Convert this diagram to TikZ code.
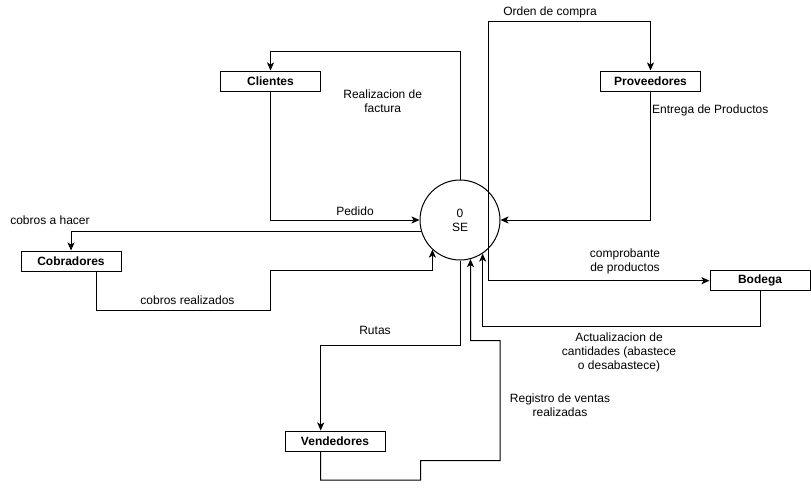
\documentclass[tikz,border=0pt]{standalone}
\usepackage{fontspec}
\setmainfont{Liberation Sans}
\usetikzlibrary{arrows.meta}
\begin{document}
\begin{tikzpicture}[x=1pt,y=-1pt,
  every node/.style={font=\fontsize{12}{14}\selectfont},
  entity/.style={draw,line width=1pt,minimum width=100pt,minimum height=20pt,inner sep=0pt,font=\fontsize{12}{14}\selectfont\bfseries},
  proc/.style={draw,circle,line width=1pt,minimum size=80pt,inner sep=0pt,align=center},
  flow/.style={draw,line width=1pt,-{Stealth[length=8pt,width=7pt,inset=2pt]}},
  lbl/.style={align=center,inner sep=0pt}]
\useasboundingbox (0,0) rectangle (811,490);
\node[proc] (se) at (460,220) {0\\SE};
\node[entity] (cli) at (270.5,81) {Clientes};
\node[entity] (prov) at (650.5,81) {Proveedores};
\node[entity] (cob) at (71,261) {Cobradores};
\node[entity] (bod) at (760,280.7) {Bodega};
\node[entity] (vend) at (335,441) {Vendedores};
\coordinate (sr) at ([xshift=28.5pt]se.center);
% Realizacion de factura
\draw[flow] (se.north) -- (460,51) -| (cli.north);
% Pedido
\draw[flow] (cli.south) |- (se.west);
% Orden de compra
\draw[flow] (sr) -- (488.5,21) -| (prov.north);
% Entrega de productos
\draw[flow] (prov.south) |- (se.east);
% cobros a hacer
\draw[flow] (se.196) -| (cob.north);
% cobros realizados
\draw[flow] ([xshift=25pt]cob.south) |- (270.7,310) -- (270.7,270) -| (se.227);
% comprobante
\draw[flow] (sr) |- (bod.west);
% actualizacion
\draw[flow] (bod.south) -- (760,326.7) -| (se.304.6);
% Rutas
\draw[flow] (se.south) -- (460,345) -| ([xshift=-14.3pt]vend.north);
% Registro de ventas
\draw[flow] ([xshift=-14.3pt]vend.south) |- (420.7,480) |- (500,460.7) |- (470.7,340.7) -- (se.285.5);
% labels
\node[lbl] (l1) at (382.7,101) {Realizacion de\\factura};
\node[lbl] (l2) at (355,211) {Pedido};
\node[lbl] (l3) at (550,12) {Orden de compra};
\node[lbl,anchor=west] (l4) at (652,110) {Entrega de Productos};
\node[lbl] (l5) at (50,220) {cobros a hacer};
\node[lbl] (l6) at (187.5,300) {cobros realizados};
\node[lbl] (l7) at (625,261) {comprobante\\de productos};
\node[lbl] (l8) at (619,352) {Actualizacion de\\cantidades (abastece\\o desabastece)};
\node[lbl] (l9) at (375,330) {Rutas};
\node[lbl] (l10) at (560,405) {Registro de ventas\\realizadas};
\end{tikzpicture}
\end{document}
